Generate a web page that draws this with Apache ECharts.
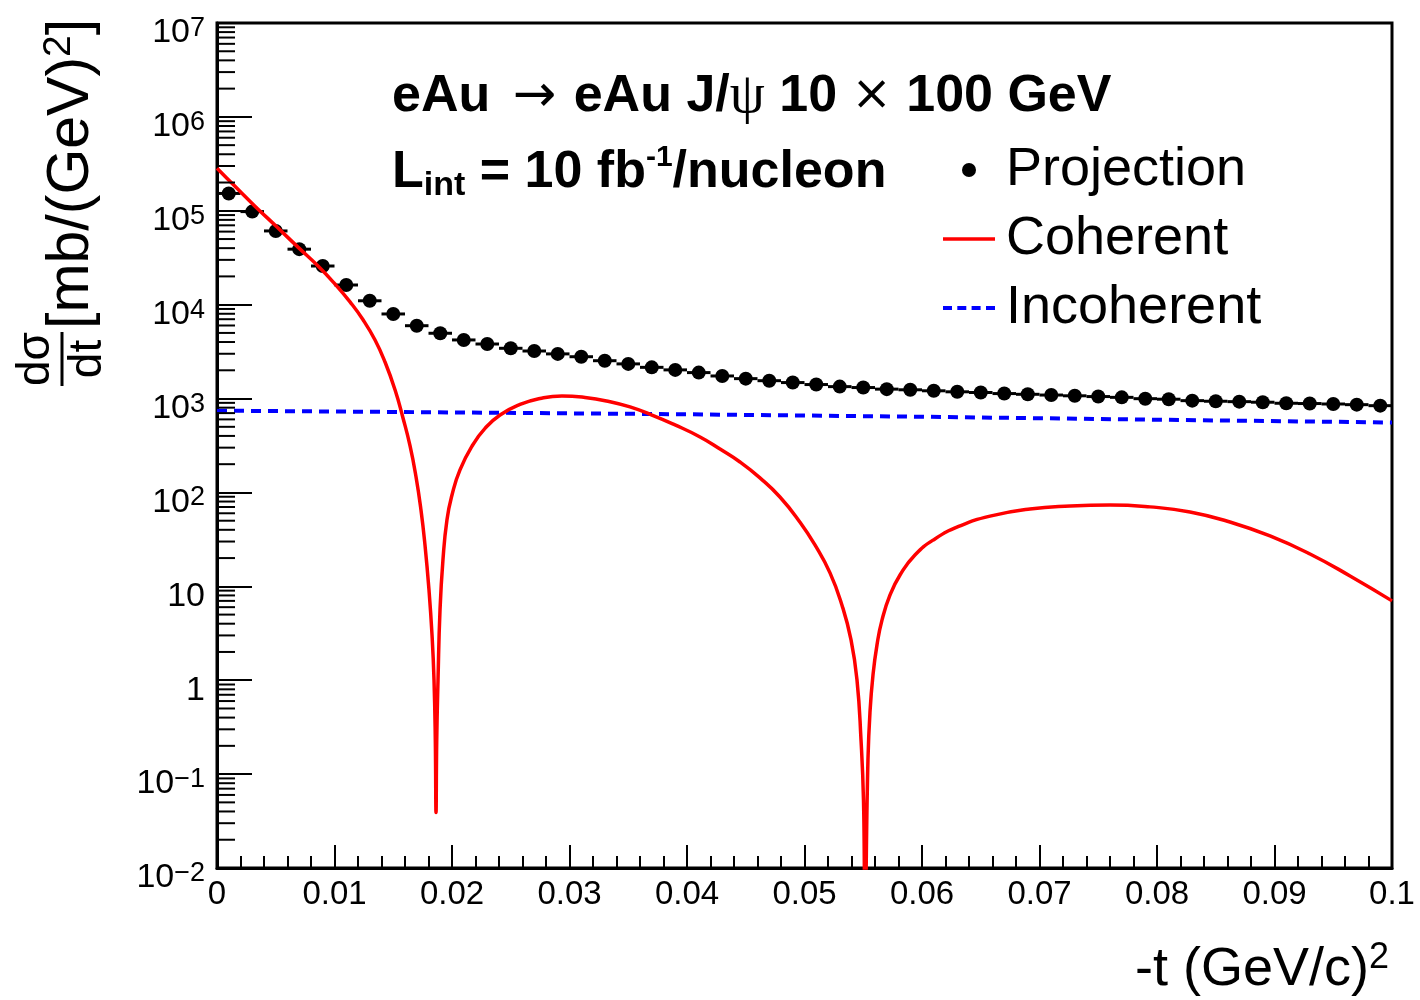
<!DOCTYPE html>
<html>
<head>
<meta charset="utf-8">
<title>eAu J/psi dsigma/dt</title>
<script src="https://cdn.jsdelivr.net/npm/echarts@6/dist/echarts.min.js"></script>
<style>
  html, body { margin: 0; padding: 0; background: #fff; }
  #main { width: 1420px; height: 1000px; }
</style>
</head>
<body>
<div id="main"></div>
<script>
// projection points (bin centres in -t, values in mb/GeV^2)
var tProj = [0.001, 0.003, 0.005, 0.007, 0.009, 0.011, 0.013, 0.015, 0.017, 0.019,
  0.021, 0.023, 0.025, 0.027, 0.029, 0.031, 0.033, 0.035, 0.037, 0.039,
  0.041, 0.043, 0.045, 0.047, 0.049, 0.051, 0.053, 0.055, 0.057, 0.059,
  0.061, 0.063, 0.065, 0.067, 0.069, 0.071, 0.073, 0.075, 0.077, 0.079,
  0.081, 0.083, 0.085, 0.087, 0.089, 0.091, 0.093, 0.095, 0.097, 0.099];
var projection = [1.53e5, 9.8e4, 6.1e4, 3.9e4, 2.58e4, 1.62e4, 1.10e4, 7.96e3, 5.97e3, 4.96e3,
  4.21e3, 3.81e3, 3.43e3, 3.21e3, 2.99e3, 2.79e3, 2.53e3, 2.34e3, 2.15e3, 2.02e3,
  1.89e3, 1.74e3, 1.63e3, 1.55e3, 1.48e3, 1.41e3, 1.34e3, 1.31e3, 1.26e3, 1.24e3,
  1.21e3, 1.18e3, 1.16e3, 1.13e3, 1.11e3, 1.09e3, 1.07e3, 1.05e3, 1.03e3, 997,
  984, 950, 936, 927, 914, 891, 885, 875, 861, 840];
var binHalfWidth = 0.001;

// coherent curve
var tCoh = [0, 0.00153, 0.00323, 0.00511, 0.00689, 0.0086, 0.01004, 0.01132, 0.01243, 0.01345,
  0.0143, 0.01515, 0.01583, 0.01643, 0.01694, 0.01736, 0.0177, 0.01804, 0.0183, 0.01847,
  0.01858, 0.01864, 0.0187, 0.01881, 0.01898, 0.01923, 0.01957, 0.02, 0.02068, 0.02179,
  0.02281, 0.02409, 0.02579, 0.02749, 0.02936, 0.03132, 0.03336, 0.03515, 0.03702, 0.03898,
  0.04111, 0.04281, 0.04451, 0.04621, 0.04791, 0.0496, 0.05089, 0.05217, 0.05319, 0.05396,
  0.05447, 0.05481, 0.05502, 0.05515, 0.0554, 0.05557, 0.05583, 0.05617, 0.0566, 0.05728,
  0.05813, 0.0594, 0.0611, 0.06323, 0.06579, 0.06919, 0.0726, 0.076, 0.0794, 0.08281,
  0.08621, 0.08962, 0.09302, 0.09643, 0.1];
var coherent = [2.84e5, 1.82e5, 1.12e5, 6.7e4, 4.1e4, 2.58e4, 1.66e4, 1.07e4, 6.9e3, 4.2e3,
  2.45e3, 1.24e3, 621, 313, 146, 65, 27.6, 9.2, 3.03, 1.0,
  0.23, 0.039, 0.23, 1.0, 5.6, 19.1, 51, 94, 174, 324,
  481, 668, 865, 1002, 1067, 1028, 931, 814, 668, 524,
  390, 290, 211, 143, 89.5, 48.5, 27.6, 13.9, 6.3, 2.69,
  1.0, 0.23, 0.053, 0.004, 0.14, 0.45, 1.14, 2.38, 4.39, 8.1,
  13.2, 21.6, 32, 44, 56, 66.7, 71.8, 73.6, 70.2, 62,
  48.5, 34.4, 22.1, 12.9, 7.0];

// incoherent curve
var tIncoh = [0, 0.02, 0.04, 0.06, 0.08, 0.1];
var incoherent = [743, 712, 680, 640, 595, 556];

// log axis minor ticks: 2..9 in every decade
var decades = [0.01, 0.1, 1, 10, 100, 1e3, 1e4, 1e5, 1e6];
var minorSteps = [2, 3, 4, 5, 6, 7, 8, 9];

var FONT = '"Liberation Sans", Arial, Helvetica, sans-serif';
var SYM = '"DejaVu Sans", sans-serif';

function pairs(xs, ys) {
  var out = [];
  for (var i = 0; i < xs.length; i++) out.push([xs[i], ys[i]]);
  return out;
}

var minorTicks = [];
decades.forEach(function (d) {
  minorSteps.forEach(function (k) { minorTicks.push([0, k * d]); });
});

var chart = echarts.init(document.getElementById('main'), null, { renderer: 'canvas' });

var option = {
  backgroundColor: '#fff',
  animation: false,
  textStyle: { fontFamily: FONT },
  grid: {
    left: 217, top: 23, right: 28, bottom: 132,
    show: true, borderColor: '#000', borderWidth: 3, backgroundColor: 'transparent'
  },
  legend: {
    orient: 'vertical',
    left: 943, top: 140, padding: 0,
    itemWidth: 52, itemHeight: 14, itemGap: 9,
    selectedMode: false,
    textStyle: { fontFamily: FONT, fontSize: 54, color: '#000', lineHeight: 60, padding: [0, 0, 0, 6] },
    data: [
      { name: 'Projection', icon: 'circle' },
      { name: 'Coherent', icon: 'path://M0,0h52v3.5h-52z' },
      { name: 'Incoherent', icon: 'path://M0,0h9v4h-9z M14.3,0h9v4h-9z M28.6,0h9v4h-9z M43,0h9v4h-9z' }
    ]
  },
  xAxis: {
    type: 'value', min: 0, max: 0.1, interval: 0.01,
    axisLine: { lineStyle: { color: '#000', width: 3 } },
    axisTick: { inside: true, length: 23, lineStyle: { color: '#000', width: 2 } },
    minorTick: { show: true, splitNumber: 5, length: 12, lineStyle: { color: '#000', width: 2 } },
    splitLine: { show: false },
    axisLabel: {
      fontFamily: FONT, fontSize: 33, color: '#000', margin: 10,
      formatter: function (v) { return String(+v.toFixed(2)); }
    }
  },
  yAxis: {
    type: 'log', logBase: 10, min: 0.01, max: 1e7, interval: 1,
    axisLine: { show: true, lineStyle: { color: '#000', width: 3 } },
    axisTick: { show: true, inside: true, length: 35, lineStyle: { color: '#000', width: 2 } },
    splitLine: { show: false },
    axisLabel: {
      fontFamily: FONT, color: '#000', margin: 12,
      formatter: function (v) {
        var e = Math.round(Math.log10(v));
        if (e === 1) return '{b|10}';
        if (e === 0) return '{b|1}';
        return '{b|10}{s|' + String(e).replace('-', '\u2212') + '}';
      },
      rich: {
        b: { fontFamily: FONT, fontSize: 34, color: '#000', lineHeight: 34, padding: [10, 0, 0, 0], verticalAlign: 'top' },
        s: { fontFamily: FONT, fontSize: 27, color: '#000', lineHeight: 25, padding: [9, 0, 0, 0], verticalAlign: 'top' }
      }
    }
  },
  series: [
    {
      name: 'minorTicks', type: 'custom', silent: true, clip: false, z: 5,
      data: minorTicks,
      renderItem: function (params, api) {
        var p = api.coord([0, api.value(1)]);
        return {
          type: 'line',
          shape: { x1: p[0], y1: p[1], x2: p[0] + 18, y2: p[1] },
          style: { stroke: '#000', lineWidth: 2 }
        };
      }
    },
    {
      name: 'projErr', type: 'custom', silent: true, z: 3,
      data: pairs(tProj, projection),
      renderItem: function (params, api) {
        var t = api.value(0), v = api.value(1);
        var a = api.coord([t - binHalfWidth, v]);
        var b = api.coord([t + binHalfWidth, v]);
        return {
          type: 'line',
          shape: { x1: a[0], y1: a[1], x2: b[0], y2: b[1] },
          style: { stroke: '#000', lineWidth: 3 }
        };
      }
    },
    {
      name: 'Projection', type: 'scatter', z: 3,
      symbol: 'circle', symbolSize: 14,
      itemStyle: { color: '#000', opacity: 1 },
      data: pairs(tProj, projection)
    },
    {
      name: 'Incoherent', type: 'line', z: 4,
      showSymbol: false, symbol: 'none',
      lineStyle: { color: '#0000ff', width: 4, type: [10, 7] },
      itemStyle: { color: '#0000ff' },
      data: pairs(tIncoh, incoherent)
    },
    {
      name: 'Coherent', type: 'line', z: 4,
      showSymbol: false, symbol: 'none', smooth: 0.5, clip: true,
      lineStyle: { color: '#ff0000', width: 3.5 },
      itemStyle: { color: '#ff0000' },
      data: pairs(tCoh, coherent)
    }
  ],
  graphic: [
    {
      type: 'text', x: 392, y: 97,
      style: {
        x: 0, y: 0, verticalAlign: 'middle', align: 'left',
        text: '{b|eAu }{a|\u2192}{b| eAu J/}{p|\u03c8}{b| 10 }{x|\u00d7}{b| 100 GeV}',
        rich: {
          b: { fontFamily: FONT, fontSize: 52, fontWeight: 'bold', fill: '#000' },
          a: { fontFamily: SYM, fontSize: 52, fill: '#000', padding: [0, 3, 0, 8] },
          x: { fontFamily: SYM, fontSize: 48, fill: '#000' },
          p: { fontFamily: '"Liberation Serif", serif', fontSize: 56, fill: '#000' }
        }
      }
    },
    {
      type: 'text', x: 392, y: 173,
      style: {
        x: 0, y: 0, verticalAlign: 'middle', align: 'left',
        text: '{b|L}{sub|int}{b| = 10 fb}{sup|-1}{b|/nucleon}',
        rich: {
          b: { fontFamily: FONT, fontSize: 52, fontWeight: 'bold', fill: '#000', lineHeight: 60 },
          sub: { fontFamily: FONT, fontSize: 34, fontWeight: 'bold', fill: '#000', lineHeight: 30, verticalAlign: 'bottom' },
          sup: { fontFamily: FONT, fontSize: 30, fontWeight: 'bold', fill: '#000', lineHeight: 40, verticalAlign: 'top' }
        }
      }
    },
    {
      type: 'text', x: 1389, y: 970,
      style: {
        x: 0, y: 0, verticalAlign: 'middle', align: 'right',
        text: '{m|-t (GeV/c)}{s|2}',
        rich: {
          m: { fontFamily: FONT, fontSize: 54, fill: '#000', lineHeight: 60 },
          s: { fontFamily: FONT, fontSize: 36, fill: '#000', lineHeight: 36, verticalAlign: 'top' }
        }
      }
    },
    {
      type: 'group', x: 62, y: 386, rotation: Math.PI / 2,
      children: [
        {
          type: 'text',
          style: { x: 27, y: -3, text: 'd\u03c3', align: 'center', verticalAlign: 'bottom',
            font: '46px ' + FONT, fill: '#000' }
        },
        {
          type: 'line',
          shape: { x1: 0, y1: 0, x2: 54, y2: 0 },
          style: { stroke: '#000', lineWidth: 3 }
        },
        {
          type: 'text',
          style: { x: 27, y: 3, text: 'dt', align: 'center', verticalAlign: 'top',
            font: '46px ' + FONT, fill: '#000' }
        },
        {
          type: 'text',
          style: {
            x: 57, y: 10, align: 'left', verticalAlign: 'middle',
            text: '{m|[mb/(GeV)}{s|2}{m|]}',
            rich: {
              m: { fontFamily: FONT, fontSize: 59, fill: '#000', lineHeight: 64 },
              s: { fontFamily: FONT, fontSize: 39, fill: '#000', lineHeight: 39, verticalAlign: 'top' }
            }
          }
        }
      ]
    }
  ]
};

chart.setOption(option);
</script>
</body>
</html>
